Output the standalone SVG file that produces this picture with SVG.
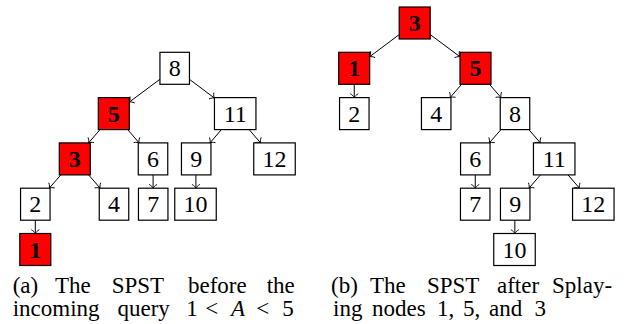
<svg xmlns="http://www.w3.org/2000/svg" width="634" height="324" viewBox="0 0 634 324">
<style>
.n rect{fill:#fff;stroke:#000;stroke-width:1.2}
.r rect{fill:#ff0000;stroke:#000;stroke-width:1.2}
.n text,.r text{font-size:24px;text-anchor:middle;fill:#000}
.r text{font-weight:bold}
.e line{stroke:#000;stroke-width:1;marker-end:url(#arr)}
.cap{font-size:23px;fill:#000}
</style>
<defs>
<marker id="arr" markerUnits="userSpaceOnUse" viewBox="-6 -6 12 12" markerWidth="12" markerHeight="12" refX="0" refY="0" orient="auto">
<path d="M-3.8,-4 C-2.6,-1.7 -0.9,-0.4 0,0 C-0.9,0.4 -2.6,1.7 -3.8,4" fill="none" stroke="#000" stroke-width="0.9"/>
</marker>
</defs>
<g id="connectors" class="e">
<line x1="159.95" y1="79.27" x2="129.3" y2="102.07"/>
<line x1="189.45" y1="79.34" x2="214.45" y2="98.06"/>
<line x1="100.02" y1="129.6" x2="88.58" y2="142.9"/>
<line x1="127.65" y1="129.6" x2="139.15" y2="142.9"/>
<line x1="221.42" y1="129.6" x2="209.98" y2="142.9"/>
<line x1="249.08" y1="129.6" x2="260.62" y2="142.9"/>
<line x1="60.85" y1="174.9" x2="49.25" y2="188.2"/>
<line x1="88.65" y1="174.9" x2="100.15" y2="188.2"/>
<line x1="153.1" y1="174.9" x2="153.1" y2="188.2"/>
<line x1="195.9" y1="174.9" x2="195.9" y2="188.2"/>
<line x1="35.3" y1="220.2" x2="35.3" y2="233.5"/>
<line x1="399.2" y1="34.6" x2="369.7" y2="56.7"/>
<line x1="430.2" y1="34.55" x2="460" y2="56.75"/>
<line x1="354.25" y1="84.3" x2="354.25" y2="97.6"/>
<line x1="461.62" y1="84.3" x2="450.08" y2="97.6"/>
<line x1="489.45" y1="84.3" x2="501.05" y2="97.6"/>
<line x1="500.98" y1="129.6" x2="489.32" y2="142.9"/>
<line x1="528.85" y1="129.6" x2="540.35" y2="142.9"/>
<line x1="475.25" y1="174.9" x2="475.25" y2="188.2"/>
<line x1="540.42" y1="174.9" x2="528.98" y2="188.2"/>
<line x1="568.01" y1="174.9" x2="579.49" y2="188.2"/>
<line x1="514.85" y1="220.2" x2="514.85" y2="233.5"/>
</g>
<g font-family="'Liberation Serif','Times New Roman','DejaVu Serif',serif">
<g id="a8" class="n"><rect x="159.95" y="52.3" width="29.5" height="32"/><text x="174.7" y="76.3">8</text></g>
<g id="a5" class="r"><rect x="98.3" y="97.6" width="31" height="32"/><text x="113.8" y="121.6">5</text></g>
<g id="a11" class="n"><rect x="214.45" y="97.6" width="41.5" height="32"/><text x="235.2" y="121.6">11</text></g>
<g id="a3" class="r"><rect x="59.3" y="142.9" width="31" height="32"/><text x="74.8" y="166.9">3</text></g>
<g id="a6" class="n"><rect x="138.25" y="142.9" width="29.5" height="32"/><text x="153" y="166.9">6</text></g>
<g id="a9" class="n"><rect x="181.45" y="142.9" width="29.5" height="32"/><text x="196.2" y="166.9">9</text></g>
<g id="a12" class="n"><rect x="253.75" y="142.9" width="41.5" height="32"/><text x="274.5" y="166.9">12</text></g>
<g id="a2" class="n"><rect x="20.55" y="188.2" width="29.5" height="32"/><text x="35.3" y="212.2">2</text></g>
<g id="a4" class="n"><rect x="99.25" y="188.2" width="29.5" height="32"/><text x="114" y="212.2">4</text></g>
<g id="a7" class="n"><rect x="138.45" y="188.2" width="29.5" height="32"/><text x="153.2" y="212.2">7</text></g>
<g id="a10" class="n"><rect x="174.75" y="188.2" width="41.5" height="32"/><text x="195.5" y="212.2">10</text></g>
<g id="a1" class="r"><rect x="19.8" y="233.5" width="31" height="32"/><text x="35.3" y="257.5">1</text></g>
<g id="b3" class="r"><rect x="399.2" y="7" width="31" height="32"/><text x="414.7" y="31">3</text></g>
<g id="b1" class="r"><rect x="338.7" y="52.3" width="31" height="32"/><text x="354.2" y="76.3">1</text></g>
<g id="b5" class="r"><rect x="460" y="52.3" width="31" height="32"/><text x="475.5" y="76.3">5</text></g>
<g id="b2" class="n"><rect x="339.55" y="97.6" width="29.5" height="32"/><text x="354.3" y="121.6">2</text></g>
<g id="b4" class="n"><rect x="421.45" y="97.6" width="29.5" height="32"/><text x="436.2" y="121.6">4</text></g>
<g id="b8" class="n"><rect x="500.25" y="97.6" width="29.5" height="32"/><text x="515" y="121.6">8</text></g>
<g id="b6" class="n"><rect x="460.55" y="142.9" width="29.5" height="32"/><text x="475.3" y="166.9">6</text></g>
<g id="b11" class="n"><rect x="533.45" y="142.9" width="41.5" height="32"/><text x="554.2" y="166.9">11</text></g>
<g id="b7" class="n"><rect x="460.45" y="188.2" width="29.5" height="32"/><text x="475.2" y="212.2">7</text></g>
<g id="b9" class="n"><rect x="500.45" y="188.2" width="29.5" height="32"/><text x="515.2" y="212.2">9</text></g>
<g id="b12" class="n"><rect x="572.55" y="188.2" width="41.5" height="32"/><text x="593.3" y="212.2">12</text></g>
<g id="b10" class="n"><rect x="493.75" y="233.5" width="41.5" height="32"/><text x="514.5" y="257.5">10</text></g>
<g id="captions">
<text class="cap" y="292.5"><tspan x="12.7">(a) </tspan><tspan x="55">The </tspan><tspan x="111.7">SPST </tspan><tspan x="188">before </tspan><tspan x="266.7">the</tspan></text>
<text class="cap" y="316"><tspan x="12.7">incoming </tspan><tspan x="117.5">query </tspan><tspan x="186.3">1 </tspan><tspan x="205.2">&lt; </tspan><tspan x="231" font-style="italic">A </tspan><tspan x="256.3">&lt; </tspan><tspan x="282.3">5</tspan></text>
<text class="cap" y="292.5"><tspan x="331">(b) </tspan><tspan x="370">The </tspan><tspan x="427">SPST </tspan><tspan x="497">after </tspan><tspan x="552">Splay-</tspan></text>
<text class="cap" y="316"><tspan x="333">ing </tspan><tspan x="372">nodes </tspan><tspan x="437.1">1, </tspan><tspan x="463.1">5, </tspan><tspan x="489.1">and </tspan><tspan x="534.6">3</tspan></text>
</g>
</g>
</svg>
